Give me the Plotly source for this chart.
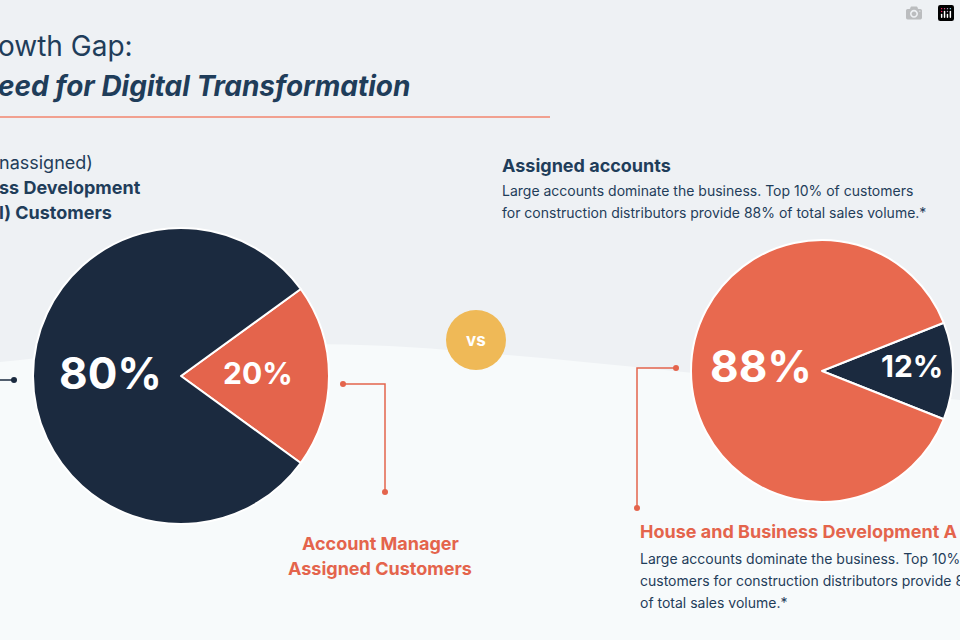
import plotly.graph_objects as go

left_labels = ["Account Manager Assigned", "Unassigned"]
left_values = [20, 80]
right_labels = ["Assigned", "House and Business Development"]
right_values = [12, 88]

NAVY = "#1b2a3f"
ORANGE = "#e4644c"
TXT = "#1f3d5a"
W, H = 960, 640

def px(x): return x / W
def py(y): return 1 - y / H

fig = go.Figure()
fig.add_trace(go.Pie(labels=left_labels, values=left_values, sort=False, direction="clockwise",
                     rotation=54, marker=dict(colors=[ORANGE, NAVY], line=dict(color="white", width=2)),
                     textinfo="none", hoverinfo="none", showlegend=False,
                     domain=dict(x=[px(181-148), px(181+148)], y=[py(376+148), py(376-148)])))
fig.add_trace(go.Pie(labels=right_labels, values=right_values, sort=False, direction="clockwise",
                     rotation=90-21.6, marker=dict(colors=[NAVY, "#e8694f"], line=dict(color="white", width=2)),
                     textinfo="none", hoverinfo="none", showlegend=False,
                     domain=dict(x=[px(822-131), px(822+131)], y=[py(371+131), py(371-131)])))

shapes = [
    dict(type="path", xref="paper", yref="paper", layer="below",
         path=f"M 0 {py(362)} C {px(200)} {py(340)} {px(350)} {py(340)} {px(470)} {py(352)} "
              f"C {px(600)} {py(362)} {px(750)} {py(380)} 1 {py(400)} L 1 0 L 0 0 Z",
         fillcolor="#f7fafb", line=dict(width=0)),
    dict(type="line", xref="paper", yref="paper", x0=0, x1=px(550), y0=py(117), y1=py(117),
         line=dict(color="#f1a08f", width=2)),
    dict(type="circle", xref="paper", yref="paper", x0=px(446), x1=px(506), y0=py(370), y1=py(310),
         fillcolor="#efb957", line=dict(width=0)),
    dict(type="line", xref="paper", yref="paper", x0=0, x1=px(14), y0=py(380), y1=py(380), line=dict(color=NAVY, width=1.5)),
    dict(type="circle", xref="paper", yref="paper", x0=px(11), x1=px(17), y0=py(383), y1=py(377), fillcolor=NAVY, line=dict(width=0)),
    dict(type="path", xref="paper", yref="paper", path=f"M {px(343)} {py(384)} L {px(385)} {py(384)} L {px(385)} {py(492)}",
         line=dict(color=ORANGE, width=1.5)),
    dict(type="circle", xref="paper", yref="paper", x0=px(340), x1=px(346), y0=py(387), y1=py(381), fillcolor=ORANGE, line=dict(width=0)),
    dict(type="circle", xref="paper", yref="paper", x0=px(382), x1=px(388), y0=py(495), y1=py(489), fillcolor=ORANGE, line=dict(width=0)),
    dict(type="path", xref="paper", yref="paper", path=f"M {px(676)} {py(368)} L {px(637)} {py(368)} L {px(637)} {py(508)}",
         line=dict(color=ORANGE, width=1.5)),
    dict(type="circle", xref="paper", yref="paper", x0=px(673), x1=px(679), y0=py(371), y1=py(365), fillcolor=ORANGE, line=dict(width=0)),
    dict(type="circle", xref="paper", yref="paper", x0=px(634), x1=px(640), y0=py(511), y1=py(505), fillcolor=ORANGE, line=dict(width=0)),
]

def t(x, y, s, size, color=TXT, bold=False, italic=False, anchor="left"):
    if bold: s = f"<b>{s}</b>"
    if italic: s = f"<i>{s}</i>"
    return dict(x=px(x), y=py(y), xref="paper", yref="paper", text=s, showarrow=False,
                xanchor=anchor, yanchor="middle", font=dict(size=size, color=color, family="Inter"))

ann = [
    t(-4, 46, "owth Gap:", 28),
    t(-4, 86, "eed for Digital Transformation", 28, bold=True, italic=True),
    t(-3, 162, "nassigned)", 18),
    t(-3, 188, "ss Development", 18, bold=True),
    t(-3, 213, "l) Customers", 18, bold=True),
    t(500, 165, "Assigned accounts", 18, bold=True),
    t(500, 190, "Large accounts dominate the business. Top 10% of customers", 14),
    t(500, 212, "for construction distributors provide 88% of total sales volume.*", 14),
    t(110, 373, "80%", 44, color="white", bold=True, anchor="center"),
    t(258, 373, "20%", 30, color="white", bold=True, anchor="center"),
    t(761, 366, "88%", 44, color="white", bold=True, anchor="center"),
    t(912, 366, "12%", 30, color="white", bold=True, anchor="center"),
    t(476, 340, "vs", 17, color="white", bold=True, anchor="center"),
    t(380, 543, "Account Manager", 18, color=ORANGE, bold=True, anchor="center"),
    t(380, 568, "Assigned Customers", 18, color=ORANGE, bold=True, anchor="center"),
    t(638, 531, "House and Business Development A", 18, color=ORANGE, bold=True),
    t(638, 558, "Large accounts dominate the business. Top 10% of", 14),
    t(638, 580, "customers for construction distributors provide 88%", 14),
    t(638, 602, "of total sales volume.*", 14),
]

fig.update_layout(width=W, height=H, margin=dict(l=0, r=0, t=0, b=0),
                  paper_bgcolor="#eef1f4", plot_bgcolor="#eef1f4",
                  shapes=shapes, annotations=ann)
fig.write_html("out.html", post_script="document.body.style.margin='0';")
